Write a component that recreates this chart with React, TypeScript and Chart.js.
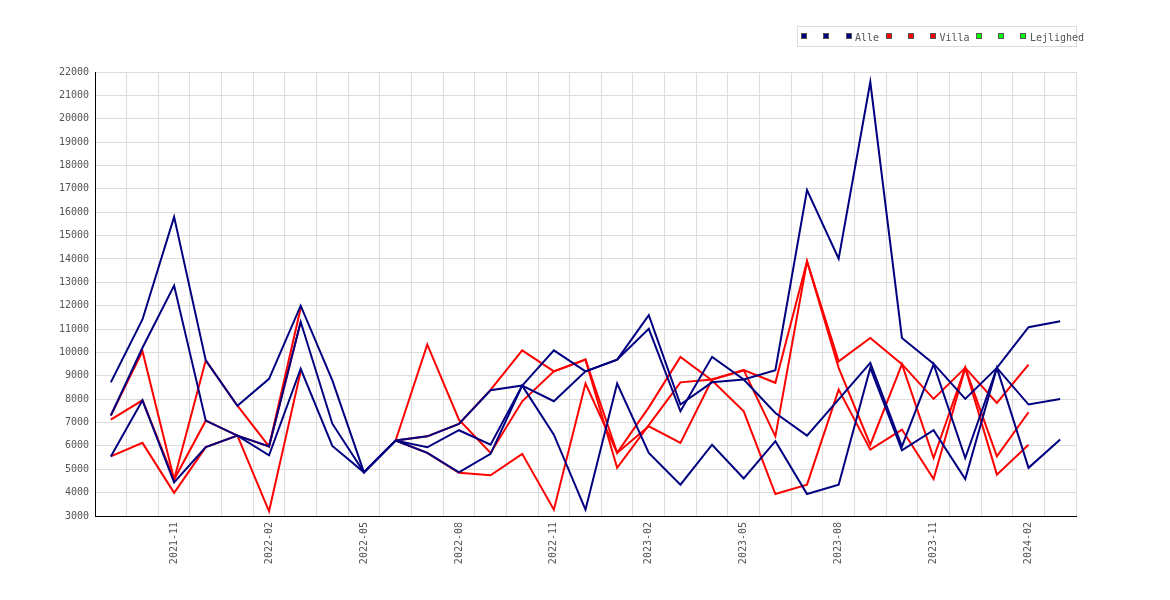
import React, { useEffect, useRef } from "react";
import { Chart, registerables } from "chart.js";

Chart.register(...registerables);

// ---- data ----
const categories = [
  "2021-09", "2021-10", "2021-11", "2021-12", "2022-01", "2022-02", "2022-03", "2022-04",
  "2022-05", "2022-06", "2022-07", "2022-08", "2022-09", "2022-10", "2022-11", "2022-12",
  "2023-01", "2023-02", "2023-03", "2023-04", "2023-05", "2023-06", "2023-07", "2023-08",
  "2023-09", "2023-10", "2023-11", "2023-12", "2024-01", "2024-02", "2024-03",
];

const alleA = [8720, 11410, 15800, 9660, 7720, 8870, 12000, 8800, 4870, 6230, 6410, 6940, 8380, 8580, 10090, 9190, 9690, 11590, 7770, 8720, 8840, 9240, 16950, 14010, 21570, 10620, 9520, 8010, 9340, 11080, 11330];
const alleB = [7300, 10200, 12860, 7080, 6440, 5980, 11310, 6950, 4870, 6230, 5940, 6670, 6050, 8580, 7910, 9190, 9690, 11010, 7480, 9810, 8840, 7410, 6440, 7990, 9550, 5980, 9500, 5480, 9340, 7770, 8010];
const alleC = [5550, 7950, 4440, 5950, 6440, 5600, 9300, 6000, 4870, 6230, 5700, 4870, 5660, 8580, 6480, 3270, 8670, 5700, 4340, 6050, 4610, 6200, 3940, 4340, 9340, 5810, 6670, 4580, 9340, 5060, 6270];

const villaA = [7300, 10050, 4560, 9660, 7720, 5980, 11900, null, null, 6230, 6410, 6940, 8400, 10090, 9190, 9690, 5700, 7650, 9810, 8800, 7480, 3940, 4340, 8410, 5840, 6700, 4580, 9340, 4770, 6050, null];
const villaB = [7120, 7950, 4560, 7080, 6440, 5980, 11300, null, null, 6230, 10340, 7120, 5700, 7910, 9190, 9690, 5060, 6890, 8720, 8840, 9240, 8700, 13900, 9620, 10620, 9500, 8010, 9340, 7840, 9480, null];
const villaC = [5550, 6130, 3990, 5950, 6440, 3200, 9190, null, null, 6230, 5700, 4850, 4740, 5660, 3270, 8670, 5700, 6840, 6130, 8840, 9240, 6410, 13900, 9340, 6050, 9500, 5480, 9340, 5550, 7440, null];

const lejlighedA: (number | null)[] = [];
const lejlighedB: (number | null)[] = [];
const lejlighedC: (number | null)[] = [];

const seriesLabels = [" ", " ", "Alle", " ", " ", "Villa", " ", " ", "Lejlighed"];
const yMin = 3000;
const yMax = 22000;
const yStep = 1000;
const labelEvery = 3;
const labelOffset = 2;

// ---- styles ----
const NAVY = "#000080";
const RED = "#ff0000";
const GREEN = "#00ff00";
const FONT_FAMILY = '"DejaVu Sans Mono", monospace';
const TEXT = "#555555";
const GRID = "#dddddd";

const boxLegend = {
  id: "boxLegend",
  afterDraw(chart: any) {
    const ctx = chart.ctx as CanvasRenderingContext2D;
    ctx.save();
    ctx.font = `10px ${FONT_FAMILY}`;
    ctx.lineWidth = 1;
    ctx.strokeStyle = GRID;
    ctx.strokeRect(797.5, 26.5, 279, 20);
    let x = 801.3;
    chart.data.datasets.forEach((ds: any) => {
      const bx = Math.round(x);
      ctx.fillStyle = ds.borderColor;
      ctx.fillRect(bx, 33, 6, 6);
      ctx.strokeStyle = "#555555";
      ctx.strokeRect(bx + 0.5, 33.5, 5, 5);
      ctx.fillStyle = TEXT;
      ctx.textBaseline = "alphabetic";
      ctx.textAlign = "left";
      ctx.fillText(ds.label, x + 9.5, 40.5);
      const w = ctx.measureText(ds.label).width;
      x += 6 + 3.5 + w + 6.6;
    });
    ctx.restore();
  },
};

export default function App() {
  const ref = useRef<HTMLCanvasElement | null>(null);

  useEffect(() => {
    if (!ref.current) return;
    const series = [alleA, alleB, alleC, villaA, villaB, villaC, lejlighedA, lejlighedB, lejlighedC];
    const colors = [NAVY, NAVY, NAVY, RED, RED, RED, GREEN, GREEN, GREEN];
    const chart = new Chart(ref.current, {
      type: "line",
      data: {
        labels: categories,
        datasets: series.map((d, i) => ({
          label: seriesLabels[i],
          data: d,
          borderColor: colors[i],
          backgroundColor: colors[i],
          borderWidth: 2,
          pointRadius: 0,
          pointHoverRadius: 0,
          tension: 0,
          fill: false,
          spanGaps: false,
        })),
      },
      options: {
        animation: false,
        responsive: false,
        maintainAspectRatio: false,
        devicePixelRatio: 1,
        layout: { padding: { top: 72, right: 94, bottom: 0, left: 0 } },
        plugins: {
          legend: { display: false },
          tooltip: { enabled: false },
        },
        scales: {
          x: {
            type: "category",
            offset: true,
            grid: { offset: true, color: GRID, drawTicks: false, lineWidth: 1 },
            border: { color: "#000000", width: 1 },
            ticks: {
              autoSkip: false,
              maxRotation: 90,
              minRotation: 90,
              padding: 6,
              color: TEXT,
              font: { family: FONT_FAMILY, size: 10 },
              callback: (_v: any, i: number) => (i % labelEvery === labelOffset ? categories[i] : ""),
            },
            afterFit: (s: any) => {
              s.height = 84;
            },
          },
          y: {
            min: yMin,
            max: yMax,
            grid: { color: GRID, drawTicks: false, lineWidth: 1 },
            border: { color: "#000000", width: 1 },
            ticks: {
              stepSize: yStep,
              padding: 6,
              color: TEXT,
              font: { family: FONT_FAMILY, size: 10 },
              callback: (v: any) => String(v),
            },
            afterFit: (s: any) => {
              s.width = 95;
            },
          },
        },
      },
      plugins: [boxLegend],
    });
    return () => chart.destroy();
  }, []);

  return (
    <div style={{ position: "absolute", left: 0, top: 0, width: 1170, height: 600, background: "#fff" }}>
      <canvas ref={ref} width={1170} height={600} style={{ display: "block" }} />
    </div>
  );
}
